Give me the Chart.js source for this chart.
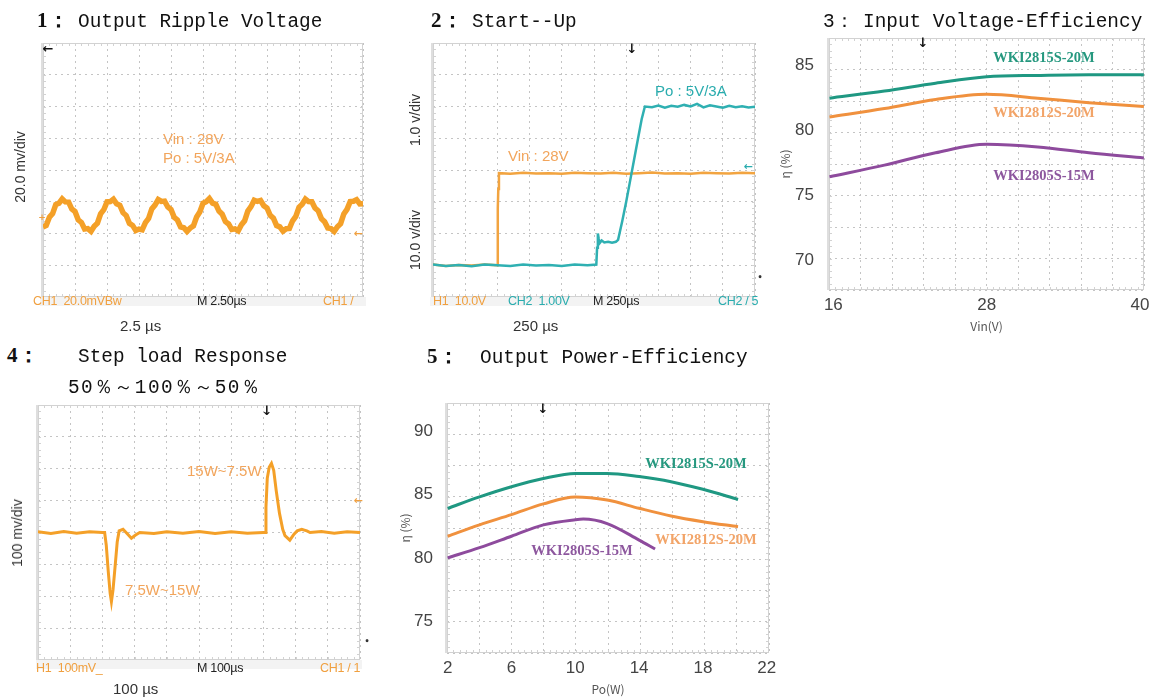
<!DOCTYPE html>
<html>
<head>
<meta charset="utf-8">
<title>WKI28 series test curves</title>
<script src="https://cdn.jsdelivr.net/npm/chart.js@4.4.1/dist/chart.umd.min.js"></script>
<style>
  html, body { margin: 0; padding: 0; background: #fff; }
  #page { position: relative; width: 1156px; height: 697px; overflow: hidden; background: #fff; }
  #page canvas { position: absolute; }
  .tt { position: absolute; white-space: nowrap; font-family: "Liberation Mono", monospace; font-size: 19.4px; line-height: 20px; color: #111; }
  .num { position: absolute; white-space: nowrap; font-family: "Liberation Serif", serif; font-weight: bold; font-size: 21px; line-height: 20px; color: #111; }
  .lb { position: absolute; white-space: nowrap; font-family: "Liberation Sans", Arial, sans-serif; line-height: 1; }
  .lv { transform: translateY(-50%); }
  .rot { transform: translate(-50%, -50%) rotate(-90deg); font-size: 14px; color: #333; }
  .st { font-size: 12.5px; letter-spacing: -0.3px; transform: translateY(-50%); }
  .ser { position: absolute; white-space: nowrap; font-family: "Liberation Serif", serif; font-weight: bold; font-size: 14.5px; line-height: 1; transform: translate(-50%, -50%); }
  .mk { position: absolute; font-family: "DejaVu Sans", sans-serif; font-weight: bold; font-size: 13px; line-height: 1; transform: translate(-50%, -50%); }
  .bar { position: absolute; background: #f3f3f3; }
</style>
</head>
<body>
<div id="page">
  <canvas id="c1"></canvas>
  <canvas id="c2"></canvas>
  <canvas id="c3"></canvas>
  <canvas id="c4"></canvas>
  <canvas id="c5"></canvas>

  <!-- titles -->
  <div class="num" style="left:37px;top:10px">1：</div>
  <div class="tt" style="left:78px;top:12px">Output Ripple Voltage</div>
  <div class="num" style="left:431px;top:10px">2：</div>
  <div class="tt" style="left:472px;top:12px">Start--Up</div>
  <div class="tt" style="left:823px;top:12px">3：</div>
  <div class="tt" style="left:863px;top:12px">Input Voltage-Efficiency</div>
  <div class="num" style="left:7px;top:345px">4：</div>
  <div class="tt" style="left:78px;top:347px">Step load Response</div>
  <div class="tt" style="left:68px;top:378px;letter-spacing:1.4px">50％～100％～50％</div>
  <div class="num" style="left:427px;top:346px">5：</div>
  <div class="tt" style="left:480px;top:348px">Output Power-Efficiency</div>

  <!-- panel 1 -->
  <div class="lb rot" style="left:20px;top:167px">20.0 mv/div</div>
  <div class="bar" style="left:40px;top:297px;width:326px;height:9px"></div>
  <div class="lb st" style="left:33px;top:301px;color:#f0a040">CH1&nbsp; 20.0mVBw</div>
  <div class="lb st" style="left:197px;top:301px;color:#222">M 2.50µs</div>
  <div class="lb st" style="left:323px;top:301px;color:#f0a040">CH1 /</div>
  <div class="lb lv" style="left:120px;top:325px;font-size:15px;color:#333">2.5 µs</div>
  <div class="lb lv" style="left:163px;top:138px;font-size:15px;color:#f2a55c">Vin : 28V</div>
  <div class="lb lv" style="left:163px;top:157px;font-size:15px;color:#f2a55c">Po : 5V/3A</div>
  <div class="mk" style="left:48px;top:48px;color:#111">←</div>
  <div class="mk" style="left:42px;top:217px;color:#f0a040;font-size:9px">+</div>
  <div class="mk" style="left:358px;top:233px;color:#f0a040;font-size:11px">←</div>

  <!-- panel 2 -->
  <div class="lb rot" style="left:415px;top:120px">1.0 v/div</div>
  <div class="lb rot" style="left:415px;top:240px">10.0 v/div</div>
  <div class="bar" style="left:430px;top:297px;width:326px;height:9px"></div>
  <div class="lb st" style="left:433px;top:301px;color:#f0a040">H1&nbsp; 10.0V</div>
  <div class="lb st" style="left:508px;top:301px;color:#2aacae">CH2&nbsp; 1.00V</div>
  <div class="lb st" style="left:593px;top:301px;color:#222">M 250µs</div>
  <div class="lb st" style="left:718px;top:301px;color:#2aacae">CH2 / 5</div>
  <div class="lb lv" style="left:513px;top:325px;font-size:15px;color:#333">250 µs</div>
  <div class="lb lv" style="left:655px;top:90px;font-size:15px;color:#2aacae">Po : 5V/3A</div>
  <div class="lb lv" style="left:508px;top:155px;font-size:15px;color:#f2a55c">Vin : 28V</div>
  <div class="mk" style="left:632px;top:48px;color:#111">↓</div>
  <div class="mk" style="left:748px;top:166px;color:#2aacae;font-size:11px">←</div>
  <div class="mk" style="left:760px;top:278px;color:#333;font-size:8px">•</div>

  <!-- panel 3 -->
  <div class="ser" style="left:1044px;top:57px;color:#26987f">WKI2815S-20M</div>
  <div class="ser" style="left:1044px;top:112px;color:#f2a468">WKI2812S-20M</div>
  <div class="ser" style="left:1044px;top:175px;color:#8d579e">WKI2805S-15M</div>
  <div class="mk" style="left:923px;top:42px;color:#111">↓</div>

  <!-- panel 4 -->
  <div class="lb rot" style="left:17px;top:533px">100 mv/div</div>
  <div class="bar" style="left:36px;top:660px;width:326px;height:9px"></div>
  <div class="lb st" style="left:36px;top:668px;color:#f0a040">H1&nbsp; 100mV_</div>
  <div class="lb st" style="left:197px;top:668px;color:#222">M 100µs</div>
  <div class="lb st" style="left:320px;top:668px;color:#f0a040">CH1 / 1</div>
  <div class="lb lv" style="left:113px;top:688px;font-size:15px;color:#333">100 µs</div>
  <div class="lb lv" style="left:187px;top:470px;font-size:15px;color:#f2a55c">15W~7.5W</div>
  <div class="lb lv" style="left:125px;top:589px;font-size:15px;color:#f2a55c">7.5W~15W</div>
  <div class="mk" style="left:267px;top:410px;color:#111">↓</div>
  <div class="mk" style="left:358px;top:500px;color:#f0a040;font-size:11px">←</div>
  <div class="mk" style="left:367px;top:642px;color:#333;font-size:8px">•</div>

  <!-- panel 5 -->
  <div class="ser" style="left:696px;top:463px;color:#26987f">WKI2815S-20M</div>
  <div class="ser" style="left:706px;top:539px;color:#f2a468">WKI2812S-20M</div>
  <div class="ser" style="left:582px;top:550px;color:#8d579e">WKI2805S-15M</div>
  <div class="mk" style="left:543px;top:408px;color:#111">↓</div>
</div>

<script>
// ---- data ----

// 1: output ripple, CH1 in mV (20 mV/div), one sample every 0.25 us
const rippleStepUs = 0.25;
const rippleMv = [
  -35.9, -35.0, -29.8, -27.5, -21.8, -20.9, -18.2, -20.1, -20.2, -24.6,
  -26.1, -31.4, -33.0, -37.2, -36.9, -38.6, -35.4, -33.5, -27.6, -25.0,
  -20.1, -19.9, -18.4, -21.3, -22.2, -26.9, -28.7, -33.6, -34.9, -38.1,
  -37.2, -37.7, -33.1, -30.5, -24.5, -22.1, -18.6, -19.8, -19.6, -23.3,
  -24.9, -29.8, -31.5, -35.9, -36.4, -38.7, -36.6, -35.2, -29.6, -26.4,
  -21.0, -20.0, -18.0, -20.9, -21.6, -25.9, -27.8, -32.5, -34.0, -37.5,
  -37.1, -38.3, -34.5, -32.0, -25.9, -23.1, -19.0, -19.8, -19.2, -22.5,
  -23.9, -28.6, -30.4, -35.0, -35.8, -38.5, -37.0, -36.8, -32.0, -29.2,
  -23.5, -21.6, -18.3, -19.9, -20.0, -23.9, -25.7, -30.6, -32.6, -36.6,
  -36.9, -38.7, -35.7, -33.8, -27.7, -24.8, -19.9, -19.7, -18.7, -21.3,
  -21.2
];

// 2: start-up, Vin (10 V/div) and Po (1 V/div), time in us
const vinT = [0, 100, 200, 300, 400, 500, 503, 507, 512, 600, 700, 800, 900, 1000, 1100,
  1200, 1300, 1400, 1500, 1600, 1700, 1800, 1900, 2000, 2100, 2200, 2300, 2400, 2500];
const vinV = [0.2, -0.2, 0.1, -0.1, 0.2, 0, 18, 24, 29, 28.8, 29.1, 28.9, 29.0, 28.8, 29.1,
  29.0, 28.9, 29.1, 28.8, 29.0, 29.2, 28.9, 29.0, 28.8, 29.1, 29.0, 28.9, 29.1, 29.0];
const poT = [0, 100, 200, 300, 400, 500, 600, 700, 800, 900, 1000, 1100, 1200,
  1268, 1274, 1280, 1286, 1295, 1310, 1330, 1360, 1390, 1420, 1437,
  1470, 1500, 1530, 1560, 1590, 1620, 1645,
  1700, 1750, 1800, 1850, 1900, 1950, 2000, 2050, 2100, 2150, 2200, 2250, 2300, 2350, 2400, 2450, 2500];
const poV = [0.02, -0.02, 0.01, -0.03, 0.02, 0, -0.02, 0.02, -0.01, 0.01, -0.02, 0.02, 0,
  0.02, 0.55, 1.0, 0.85, 0.7, 0.78, 0.72, 0.74, 0.71, 0.74, 0.8,
  1.4, 2.0, 2.65, 3.3, 3.95, 4.6, 5.0,
  4.98, 5.03, 4.96, 5.02, 4.99, 5.05, 5.0, 5.08, 4.97, 5.04, 5.0, 4.96, 5.02, 4.98, 5.01, 4.97, 4.99];

// 3: input voltage vs efficiency (%)
const vinAxis = [15.7, 20, 24, 28, 32, 36, 40.3];
const eff2815Vin = [82.45, 83.0, 83.6, 84.1, 84.2, 84.25, 84.25];
const eff2812Vin = [81.0, 81.65, 82.35, 82.75, 82.45, 82.1, 81.8];
const eff2805Vin = [76.4, 77.3, 78.25, 78.9, 78.7, 78.25, 77.85];
const vinTicks = [16, 28, 40];
const effTicks3 = [70, 75, 80, 85];

// 4: step load, CH1 in mV (100 mV/div), time in us
const stepT = [0, 40, 80, 120, 160, 200,
  207, 212, 218, 224, 228, 233, 240, 246, 252, 264, 278, 290, 303, 316,
  360, 400, 450, 500, 550, 600, 650, 700,
  705, 708, 712, 718, 725, 732, 740, 750, 760, 767, 782, 795, 805, 819, 835, 845,
  880, 920, 960, 1000];
const stepMv = [2, -3, 3, -2, 2, 0,
  0, -40, -120, -190, -217, -180, -100, -30, 5, 10, -5, -18, -8, 0,
  -3, 2, -2, 3, -3, 2, -2, 0,
  0, 80, 170, 205, 217, 195, 130, 60, 10, -10, -24, -5, 5, 10, 5, 0,
  3, -2, 2, 0];

// 5: output power vs efficiency (%)
const poW = [2, 4, 6, 8, 10, 12, 14, 16, 18, 20.2];
const eff2815Po = [83.9, 84.8, 85.6, 86.25, 86.65, 86.65, 86.4, 86.0, 85.4, 84.6];
const eff2812Po = [81.7, 82.6, 83.4, 84.25, 84.8, 84.55, 83.9, 83.3, 82.85, 82.45];
const poW2805 = [2, 4, 6, 8, 10, 10.5, 12, 14, 15];
const eff2805Po = [80.0, 80.8, 81.7, 82.6, 83.0, 83.05, 82.7, 81.4, 80.7];
const poTicks = [2, 6, 10, 14, 18, 22];
const effTicks5 = [75, 80, 85, 90];

// ---- styling ----
const ORANGE = '#f4a028';
const CYAN = '#2fb0b2';
const TEAL = '#1f9882';
const ORG2 = '#f0913e';
const PURPLE = '#8e4b9d';
const GRID = '#c4c4c4';

const xy = (xs, ys) => ys.map((v, i) => ({ x: xs[i], y: v }));

// force an axis to a fixed thickness so the plot box lands where the picture has it
function fixSize(size) {
  return (s) => {
    if (s.isHorizontal()) s.height = size; else s.width = size;
    s.paddingTop = 0; s.paddingBottom = 0; s.paddingLeft = 0; s.paddingRight = 0;
  };
}

// dotted scope-style grid axis, no labels
function gridAxis(min, max, step, pos) {
  return {
    type: 'linear', position: pos, min: min, max: max,
    ticks: { display: false, stepSize: step },
    grid: { color: GRID, lineWidth: 1, drawTicks: false },
    border: { display: false, dash: [2, 4] },
    afterFit: fixSize(0)
  };
}

function valueAxis(min, max, pos, ticks, size, pad, title, titlePad) {
  return {
    type: 'linear', position: pos, min: min, max: max,
    afterBuildTicks: (s) => { s.ticks = ticks.map(v => ({ value: v })); },
    ticks: { color: '#444', padding: pad, font: { family: 'Liberation Sans', size: 17 } },
    grid: { display: false, drawTicks: false },
    border: { display: false },
    title: { display: true, text: title, color: '#555', padding: titlePad,
      font: { family: 'Noto Sans CJK SC', size: 12 } },
    afterFit: fixSize(size)
  };
}

// scope frame: light border, small ticks on the edges, grey strip on the left
const scopeFrame = {
  id: 'scopeFrame',
  beforeDatasetsDraw(chart) {
    const { ctx, chartArea: a } = chart;
    const w = a.right - a.left, h = a.bottom - a.top;
    ctx.save();
    ctx.strokeStyle = '#d2d2d2';
    ctx.lineWidth = 1;
    ctx.strokeRect(a.left + 0.5, a.top + 0.5, w - 1, h - 1);
    ctx.beginPath();
    for (let i = 1; i < 50; i++) {
      const x = Math.round(a.left + w * i / 50) + 0.5;
      ctx.moveTo(x, a.top); ctx.lineTo(x, a.top + 3);
      ctx.moveTo(x, a.bottom); ctx.lineTo(x, a.bottom - 3);
    }
    for (let j = 1; j < 40; j++) {
      const y = Math.round(a.top + h * j / 40) + 0.5;
      ctx.moveTo(a.left, y); ctx.lineTo(a.left + 3, y);
      ctx.moveTo(a.right, y); ctx.lineTo(a.right - 3, y);
    }
    ctx.stroke();
    ctx.fillStyle = '#dedede';
    ctx.fillRect(a.left - 2, a.top, 2, h);
    ctx.restore();
  }
};

function makeChart(id, box, padding, scales, datasets) {
  const cv = document.getElementById(id);
  cv.width = box.w; cv.height = box.h;
  cv.style.left = box.x + 'px'; cv.style.top = box.y + 'px';
  return new Chart(cv, {
    type: 'line',
    data: { datasets: datasets },
    options: {
      responsive: false,
      animation: false,
      events: [],
      layout: { padding: padding },
      plugins: { legend: { display: false }, tooltip: { enabled: false } },
      scales: scales
    },
    plugins: [scopeFrame]
  });
}

function trace(data, color, width, yAxisID) {
  return { data: data, borderColor: color, borderWidth: width, pointRadius: 0,
    tension: 0, fill: false, xAxisID: 'x', yAxisID: yAxisID || 'y' };
}
function curve(data, color) {
  return { data: data, borderColor: color, borderWidth: 3, pointRadius: 0,
    cubicInterpolationMode: 'monotone', fill: false, xAxisID: 'x', yAxisID: 'y' };
}

// 1: output ripple voltage (plot 43..363 x 43..297)
makeChart('c1', { x: 0, y: 30, w: 380, h: 275 },
  { left: 43, top: 13, right: 17, bottom: 8 },
  { x: gridAxis(0, 25, 2.5, 'bottom'), y: gridAxis(-80, 80, 20, 'left') },
  [trace(rippleMv.map((v, i) => ({ x: i * rippleStepUs, y: v })), ORANGE, 5.5)]);

// 2: start-up (plot 433..755 x 43..297)
const yPo = { type: 'linear', display: false, min: -1, max: 7 };
makeChart('c2', { x: 390, y: 30, w: 390, h: 275 },
  { left: 43, top: 13, right: 25, bottom: 8 },
  { x: gridAxis(0, 2500, 250, 'bottom'), y: gridAxis(-10, 70, 10, 'left'), yPo: yPo },
  [trace(xy(poT, poV), CYAN, 2.5, 'yPo'), trace(xy(vinT, vinV), '#f2a440', 2.5, 'y')]);

// 3: input voltage - efficiency (plot 829..1144 x 38..290)
makeChart('c3', { x: 772, y: 25, w: 384, h: 315 },
  { left: 0, top: 13, right: 12, bottom: 0 },
  {
    x: valueAxis(15.66, 40.31, 'bottom', vinTicks, 50, 5, 'Vin(V)', 6),
    y: valueAxis(67.69, 87.08, 'left', effTicks3, 57, 15, 'η (%)', 6),
    gx: gridAxis(0, 10, 1, 'bottom'),
    gy: gridAxis(0, 8, 1, 'left')
  },
  [curve(xy(vinAxis, eff2815Vin), TEAL), curve(xy(vinAxis, eff2812Vin), ORG2),
   curve(xy(vinAxis, eff2805Vin), PURPLE)]);

// 4: step load response (plot 38..360 x 405..660)
makeChart('c4', { x: 0, y: 395, w: 380, h: 270 },
  { left: 38, top: 10, right: 20, bottom: 5 },
  { x: gridAxis(0, 1000, 100, 'bottom'), y: gridAxis(-400, 400, 100, 'left') },
  [trace(xy(stepT, stepMv), ORANGE, 3)]);

// 5: output power - efficiency (plot 447..769 x 403..653)
makeChart('c5', { x: 390, y: 380, w: 400, h: 317 },
  { left: 0, top: 23, right: 21, bottom: 0 },
  {
    x: valueAxis(1.96, 22.14, 'bottom', poTicks, 44, 5, 'Po(W)', 0),
    y: valueAxis(72.5, 92.2, 'left', effTicks5, 57, 14, 'η (%)', 8),
    gx: gridAxis(0, 10, 1, 'bottom'),
    gy: gridAxis(0, 8, 1, 'left')
  },
  [curve(xy(poW, eff2815Po), TEAL), curve(xy(poW, eff2812Po), ORG2),
   curve(xy(poW2805, eff2805Po), PURPLE)]);
</script>
</body>
</html>
